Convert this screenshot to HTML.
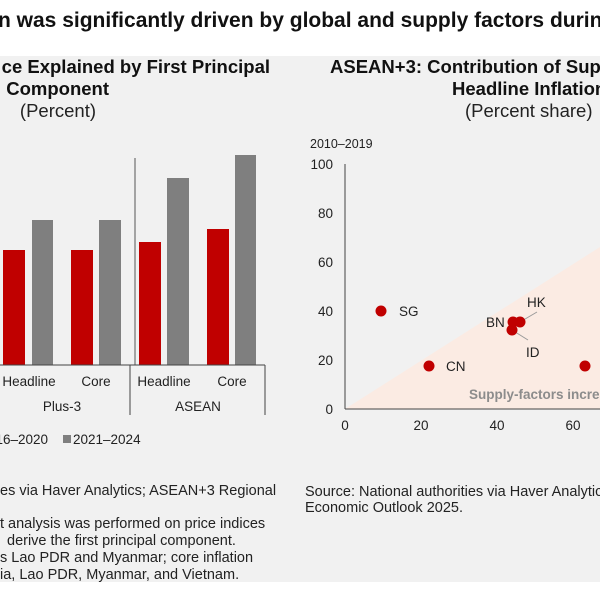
<!DOCTYPE html>
<html><head><meta charset="utf-8"><style>
html,body{margin:0;padding:0;background:#fff;}
svg{display:block;font-family:"Liberation Sans",Arial,sans-serif;}
</style></head><body>
<svg width="600" height="600" viewBox="0 0 600 600">
<rect x="0" y="56" width="600" height="526" fill="#f1f1f1"/>
<text x="-2" y="27" font-size="21" font-weight="bold" fill="#111">n was significantly driven by global and supply factors during</text>
<!-- left panel -->
<text x="270" y="73" font-size="18.5" font-weight="bold" text-anchor="end" fill="#111">ce Explained by First Principal</text>
<text x="109" y="95" font-size="18.5" font-weight="bold" text-anchor="end" fill="#111">Component</text>
<text x="96" y="117" font-size="18.5" text-anchor="end" fill="#222">(Percent)</text>
<line x1="135" y1="158" x2="135" y2="365" stroke="#555" stroke-width="1"/>
<g fill="#c00000">
<rect x="3" y="250" width="22" height="115"/>
<rect x="71" y="250" width="22" height="115"/>
<rect x="139" y="242" width="22" height="123"/>
<rect x="207" y="229" width="22" height="136"/>
</g>
<g fill="#7f7f7f">
<rect x="32" y="220" width="21" height="145"/>
<rect x="99" y="220" width="22" height="145"/>
<rect x="167" y="178" width="22" height="187"/>
<rect x="235" y="155" width="21" height="210"/>
</g>
<line x1="0" y1="365" x2="265" y2="365" stroke="#444"/>
<line x1="130" y1="365" x2="130" y2="415" stroke="#444"/>
<line x1="265" y1="365" x2="265" y2="415" stroke="#444"/>
<g font-size="13.5" fill="#222" text-anchor="middle">
<text x="29" y="386">Headline</text>
<text x="96" y="386">Core</text>
<text x="164" y="386">Headline</text>
<text x="232" y="386">Core</text>
<text x="62" y="411">Plus-3</text>
<text x="198" y="411">ASEAN</text>
</g>
<text x="48" y="444" font-size="13.5" fill="#222" text-anchor="end">16–2020</text>
<rect x="63" y="435" width="8" height="8" fill="#7f7f7f"/>
<text x="73" y="444" font-size="13.5" fill="#222">2021–2024</text>
<g font-size="14.5" fill="#222">
<text x="0" y="495">es via Haver Analytics; ASEAN+3 Regional</text>
<text x="0" y="528">t analysis was performed on price indices</text>
<text x="7" y="545">derive the first principal component.</text>
<text x="0" y="562">s Lao PDR and Myanmar; core inflation</text>
<text x="0" y="579">ia, Lao PDR, Myanmar, and Vietnam.</text>
</g>
<!-- right panel -->
<text x="330" y="73" font-size="18.5" font-weight="bold" fill="#111">ASEAN+3: Contribution of Supply Factors to</text>
<text x="452" y="95" font-size="18.5" font-weight="bold" fill="#111">Headline Inflation</text>
<text x="465" y="117" font-size="18.5" fill="#222">(Percent share)</text>
<text x="310" y="148" font-size="12.5" fill="#222">2010–2019</text>
<polygon points="345,409 600,247 600,409" fill="#fbebe3"/>
<line x1="345" y1="164" x2="345" y2="409" stroke="#444"/>
<line x1="345" y1="409" x2="600" y2="409" stroke="#444"/>
<g font-size="13.5" fill="#222" text-anchor="end">
<text x="333" y="169">100</text>
<text x="333" y="218">80</text>
<text x="333" y="267">60</text>
<text x="333" y="316">40</text>
<text x="333" y="365">20</text>
<text x="333" y="414">0</text>
</g>
<g font-size="13.5" fill="#222" text-anchor="middle">
<text x="345" y="430">0</text>
<text x="421" y="430">20</text>
<text x="497" y="430">40</text>
<text x="573" y="430">60</text>
</g>
<text x="469" y="399" font-size="13.5" font-weight="bold" fill="#8c8c8c">Supply-factors increase</text>
<line x1="520" y1="322" x2="537" y2="312" stroke="#999"/>
<line x1="512" y1="330" x2="528" y2="340" stroke="#999"/>
<g fill="#c00000">
<circle cx="381" cy="311" r="5.5"/>
<circle cx="429" cy="366" r="5.5"/>
<circle cx="513" cy="322" r="5.5"/>
<circle cx="520" cy="322" r="5.5"/>
<circle cx="512" cy="330" r="5.5"/>
<circle cx="585" cy="366" r="5.5"/>
</g>
<g font-size="13.5" fill="#222">
<text x="399" y="316">SG</text>
<text x="446" y="371">CN</text>
<text x="486" y="327">BN</text>
<text x="527" y="307">HK</text>
<text x="526" y="357">ID</text>
</g>
<text x="305" y="496" font-size="14.5" fill="#222">Source: National authorities via Haver Analytics; ASEAN+3 Regional</text>
<text x="305" y="512" font-size="14.5" fill="#222">Economic Outlook 2025.</text>
</svg>
</body></html>
